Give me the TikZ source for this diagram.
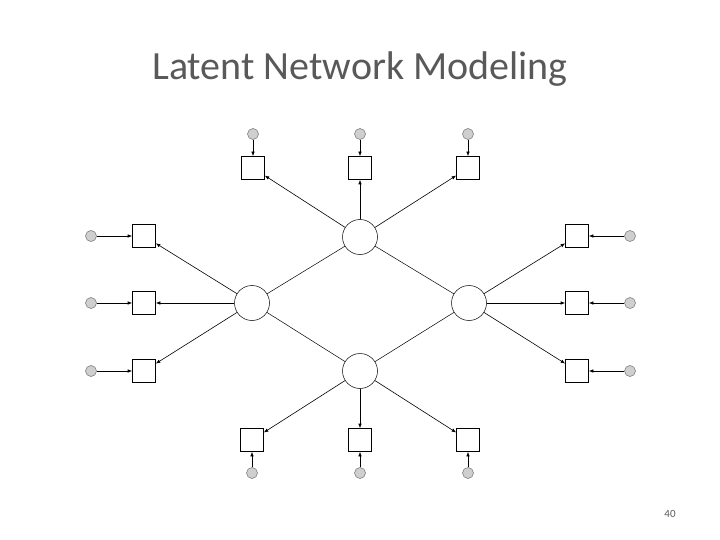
\documentclass[tikz,border=0pt]{standalone}
\usepackage{fontspec}
\setmainfont{Carlito}
\usetikzlibrary{arrows.meta}
\definecolor{titlegray}{HTML}{595959}
\definecolor{errfill}{HTML}{CFCFCF}
\definecolor{errdraw}{HTML}{707070}
\tikzset{
  lat/.style={circle, draw, line width=0.5pt, minimum size=35pt, inner sep=0pt},
  ind/.style={rectangle, draw, line width=0.6pt, minimum width=23pt, minimum height=23pt, inner sep=0pt},
  err/.style={circle, draw=errdraw, fill=errfill, line width=0.5pt, minimum size=11pt, inner sep=0pt},
  arr/.style={-{Latex[length=4.5pt,width=3.5pt]}, line width=0.6pt},
  link/.style={line width=0.5pt}
}
\begin{document}
\begin{tikzpicture}[x=1pt,y=-1pt]
\useasboundingbox (0,0) rectangle (720,540);
\node[anchor=base, font=\fontsize{40}{44}\selectfont, text=titlegray] (title) at (360,80) {Latent Network Modeling};
\node[font=\fontsize{11}{12}\selectfont, text=titlegray] (page) at (670,514) {40};

% latent variables
\node[lat] (T) at (360,237) {};
\node[lat] (L) at (252,303) {};
\node[lat] (R) at (469,303) {};
\node[lat] (B) at (360,371) {};

\draw[link] (T) -- (L);
\draw[link] (T) -- (R);
\draw[link] (L) -- (B);
\draw[link] (R) -- (B);

% top indicators
\foreach \i/\x in {1/253,2/360,3/468}{
  \node[ind] (t\i) at (\x,168) {};
  \node[err] (te\i) at (\x,134) {};
  \draw[arr] (te\i) -- (t\i);
  \draw[arr] (T) -- (t\i);
}
% bottom indicators
\foreach \i/\x in {1/252,2/360,3/468}{
  \node[ind] (b\i) at (\x,440) {};
  \node[err] (be\i) at (\x,473) {};
  \draw[arr] (be\i) -- (b\i);
  \draw[arr] (B) -- (b\i);
}
% left indicators
\foreach \i/\y in {1/236,2/303,3/371}{
  \node[ind] (l\i) at (144,\y) {};
  \node[err] (le\i) at (91,\y) {};
  \draw[arr] (le\i) -- (l\i);
  \draw[arr] (L) -- (l\i);
}
% right indicators
\foreach \i/\y in {1/236,2/303,3/371}{
  \node[ind] (r\i) at (577,\y) {};
  \node[err] (re\i) at (630,\y) {};
  \draw[arr] (re\i) -- (r\i);
  \draw[arr] (R) -- (r\i);
}
\end{tikzpicture}
\end{document}
